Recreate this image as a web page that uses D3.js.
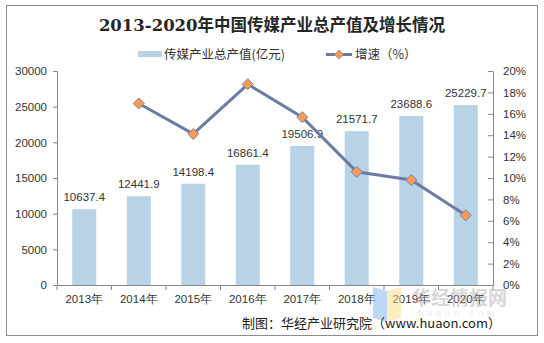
<!DOCTYPE html>
<html><head><meta charset="utf-8">
<script src="https://cdn.jsdelivr.net/npm/d3@7/dist/d3.min.js"></script>
<style>body{margin:0;background:#fff}svg{display:block}</style>
</head><body>
<script>
const categories = ["2013年","2014年","2015年","2016年","2017年","2018年","2019年","2020年"];
const outputValues = [10637.4,12441.9,14198.4,16861.4,19506.9,21571.7,23688.6,25229.7];
const growthValues = [null,16.96,14.12,18.76,15.69,10.58,9.81,6.51];
const leftTicks = [0,5000,10000,15000,20000,25000,30000];
const rightTicks = [0,2,4,6,8,10,12,14,16,18,20];

const W=544,H=343;
const svg=d3.select("body").append("svg").attr("width",W).attr("height",H);
const font="'Liberation Sans', Arial, sans-serif";
svg.append("rect").attr("x",6.5).attr("y",5.5).attr("width",531).attr("height",330)
  .attr("fill","#fff").attr("stroke","#8c8c8c").attr("stroke-width",1);

const x0=57,x1=493,yTop=71,yBot=285;
const x=d3.scaleBand().domain(categories).range([x0,x1]);
const yL=d3.scaleLinear().domain([0,30000]).range([yBot,yTop]);
const yR=d3.scaleLinear().domain([0,20]).range([yBot,yTop]);

svg.append("text").attr("x",272).attr("y",31).attr("text-anchor","middle")
  .attr("font-family","'DejaVu Serif','Liberation Serif','Noto Sans CJK SC',serif").attr("font-weight","bold")
  .attr("font-size",16.5).attr("fill","#262626").text("2013-2020年中国传媒产业总产值及增长情况");

const diamond=r=>`M0,${-r}L${r},0L0,${r}L${-r},0Z`;

// legend
const lg=svg.append("g");
lg.append("rect").attr("x",138).attr("y",51).attr("width",24).attr("height",6).attr("fill","#b8d3e6");
lg.append("text").attr("x",164).attr("y",59).attr("font-family","'Noto Sans CJK SC',sans-serif").attr("font-size",12.5).attr("fill","#333").text("传媒产业总产值(亿元)");
lg.append("line").attr("x1",326).attr("x2",352).attr("y1",54.5).attr("y2",54.5).attr("stroke","#6d7aa3").attr("stroke-width",3);
lg.append("path").attr("d",diamond(4.5)).attr("transform","translate(339,54.5)")
  .attr("fill","#f79b55").attr("stroke","#8a8faa").attr("stroke-width",0.8);
lg.append("text").attr("x",355).attr("y",59).attr("font-family","'Noto Sans CJK SC',sans-serif").attr("font-size",12.5).attr("fill","#333").text("增速（%）");

// bars
const bw=24;
svg.append("g").selectAll("rect").data(outputValues).join("rect")
  .attr("x",(d,i)=>x(categories[i])+x.bandwidth()/2-bw/2).attr("width",bw)
  .attr("y",d=>yL(d)).attr("height",d=>yBot-yL(d)).attr("fill","#b8d3e6");
svg.append("g").selectAll("text").data(outputValues).join("text")
  .attr("x",(d,i)=>x(categories[i])+x.bandwidth()/2).attr("y",d=>yL(d)-8)
  .attr("text-anchor","middle").attr("font-family",font).attr("font-size",11.5).attr("fill","#333")
  .text(d=>d.toFixed(1));

// axes
const gL=svg.append("g").attr("transform",`translate(${x0},0)`)
  .call(d3.axisLeft(yL).tickValues(leftTicks).tickSize(4).tickPadding(6).tickFormat(d3.format("d")));
const gR=svg.append("g").attr("transform",`translate(${x1},0)`)
  .call(d3.axisRight(yR).tickValues(rightTicks).tickSize(-5).tickPadding(10).tickFormat(d=>d+"%"));
const gX=svg.append("g").attr("transform",`translate(0,${yBot})`)
  .call(d3.axisBottom(x).tickSize(0).tickPadding(10));
[gL,gR,gX].forEach(g=>{
  g.select(".domain").attr("stroke","#888");
  g.selectAll(".tick line").attr("stroke","#888");
  g.selectAll("text").attr("font-family",font).attr("font-size",11.5).attr("fill","#333");
});
// category boundary ticks
const bounds=categories.map(c=>x(c)).concat([x1]);
svg.append("g").selectAll("line").data(bounds).join("line")
  .attr("x1",d=>d).attr("x2",d=>d).attr("y1",yBot).attr("y2",yBot+5).attr("stroke","#888");

// line
const pts=growthValues.map((v,i)=>({v,c:categories[i]})).filter(d=>d.v!=null);
svg.append("path").datum(pts).attr("fill","none").attr("stroke","#6d7aa3").attr("stroke-width",3)
  .attr("d",d3.line().x(d=>x(d.c)+x.bandwidth()/2).y(d=>yR(d.v)));
svg.append("g").selectAll("path").data(pts).join("path")
  .attr("d",diamond(5.5))
  .attr("transform",d=>`translate(${x(d.c)+x.bandwidth()/2},${yR(d.v)})`)
  .attr("fill","#f79b55").attr("stroke","#7b82a6").attr("stroke-width",1);

// watermark (logo graphic)
const wm=svg.append("g").attr("opacity",0.5);
wm.append("path").attr("d","M373,287 L387,291 L387,322 L373,318 Z").attr("fill","#7fb0f0");
wm.append("path").attr("d","M387,291 L401,287 L401,318 L387,322 Z").attr("fill","#f7df80");
wm.append("text").attr("x",412).attr("y",305).attr("font-family","'Noto Sans CJK SC',sans-serif").attr("font-weight","bold")
  .attr("font-size",19).attr("fill","#b0b0b0").text("华经情报网");
wm.append("text").attr("x",418).attr("y",316).attr("font-family",font)
  .attr("font-size",9).attr("fill","#d8d8d8").attr("letter-spacing",4).text("huaon.com");

svg.append("text").attr("x",501).attr("y",328).attr("text-anchor","end")
  .attr("font-family","'Noto Sans CJK SC',sans-serif").attr("font-size",13).attr("fill","#222")
  .text("制图：华经产业研究院（www.huaon.com）");
</script>
</body></html>
